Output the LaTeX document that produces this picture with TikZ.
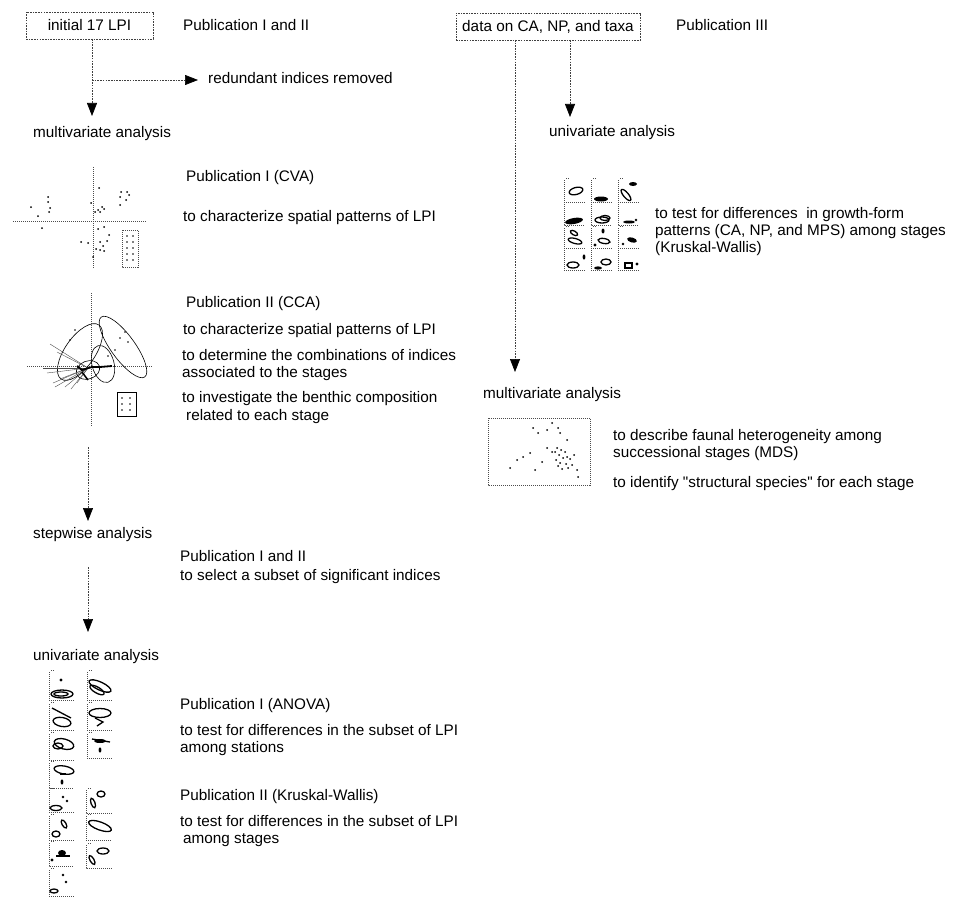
\documentclass[tikz,border=0pt]{standalone}
\usepackage{fontspec}
\setmainfont{Liberation Sans}
\newfontfamily\qfont{Liberation Sans}[Ligatures=TeXOff]
\usetikzlibrary{arrows.meta}
\tikzset{
  dl/.style={line width=0.7pt, dash pattern=on 1.6pt off 1.1pt, draw=black!75},
  ar/.style={-{Triangle[width=10pt,length=13pt,black]}},
  lbl/.style={anchor=west, inner sep=0pt, text height=11pt, text depth=3pt, font=\fontsize{15.3}{17.5}\selectfont},
  dbox/.style={dl, draw, inner sep=0pt, minimum height=27pt, font=\fontsize{15.3}{17.5}\selectfont},
  ax/.style={line width=0.5pt, dash pattern=on 1pt off 1pt, draw=black!70},
  el/.style={line width=1.3pt},
  pt/.style={fill=black}
}
\newcommand\tpan[4]{\draw[ax] (#1,#2) -- (#1,#4) -- (#3,#4); \draw[ax] (#1+2,#2-2) -- (#1+6,#2-2);}
\begin{document}
\begin{tikzpicture}[x=1pt,y=-1pt]
\useasboundingbox (0,0) rectangle (957,896);
% ---------- left column ----------
\node[dbox, minimum width=127pt] (init) at (89.5,25.5) {initial 17 LPI};
\node[lbl] (pubA) at (183,27) {Publication I and II};
\node[lbl] (red) at (208,80) {redundant indices removed};
\node[lbl] (mvaL) at (33,134) {multivariate analysis};
\coordinate (a0) at (92,39);
\coordinate (a1) at (92,116);
\coordinate (j1) at (92,80);
\draw[dl,ar] (a0) -- (a1);
\draw[dl,ar] (j1) -- ([xshift=-10pt]red.west);

% CVA plot
\node[lbl] (pubCVA) at (186,178) {Publication I (CVA)};
\node[lbl] (cva1) at (183,217) {to characterize spatial patterns of LPI};
\draw[ax] (13,221) -- (147,221);
\draw[ax] (93,167) -- (93,268);
\draw[ax] (122,230) rectangle (138,267);
\foreach \p in {(31,207),(38,216),(42,228),(48,197),(48,202),(50,208),(49,212),
 (99,188),(91,203),(102,207),(98,210),(95,212),(104,209),(100,212),
 (121,192),(127,192),(129,195),(126,200),(120,197),(120,205),
 (98,229),(104,227),(109,235),(100,242),(107,241),(103,246),(96,249),(100,250),(104,251),
 (81,242),(88,243),(93,257)}
  \fill \p circle (1);
\foreach \yy in {236,242,248,254,260}{\fill (127,\yy) circle (0.8); \fill (133,\yy) circle (0.8);}

% CCA plot
\node[lbl] (pubCCA) at (186,303) {Publication II (CCA)};
\node[lbl] (cca1) at (183,330) {to characterize spatial patterns of LPI};
\node[lbl] (cca2) at (182,356) {to determine the combinations of indices};
\node[lbl] (cca3) at (182,373) {associated to the stages};
\node[lbl] (cca4) at (182,398) {to investigate the benthic composition};
\node[lbl] (cca5) at (186,416) {related to each stage};
\draw[ax] (27,366) -- (153,366);
\draw[ax] (91,293) -- (91,427);
\draw[line width=0.6pt] (80,352) ellipse[x radius=33, y radius=15, rotate=55];
\draw[line width=0.6pt] (123,347) ellipse[x radius=37, y radius=12, rotate=-54];
\draw[line width=0.6pt] (103,364) ellipse[x radius=19, y radius=11, rotate=-75];
\draw[line width=0.6pt] (88,370) ellipse[x radius=12, y radius=9, rotate=20];
\foreach \e in {(50,344),(57,352),(43,368),(47,373),(53,383),(55,387),(65,387),(71,389),(77,383),(60,379)}
  \draw[line width=0.4pt, black!70] (88,368) -- \e;
\draw[line width=1.8pt] (77,366) -- (82,370) -- (92,367) -- (100,367) -- (112,366);
\draw[line width=1.5pt] (82,372) -- (88,380);
\foreach \p in {(120,338),(125,332),(128,342),(115,350),(70,340),(75,330),(108,356)} \fill \p circle (0.9);
\draw[line width=0.7pt] (117,392) rectangle (136,416);
\foreach \yy in {398,404,410}{\fill (122,\yy) circle (0.8); \fill (130,\yy) circle (0.8);}

% stepwise
\node[lbl] (step) at (33,534) {stepwise analysis};
\coordinate (b0) at (88,447);
\coordinate (b1) at (88,521);
\draw[dl,ar] (b0) -- (b1);
\node[lbl] (pubB) at (180,557) {Publication I and II};
\node[lbl] (sel) at (180,576) {to select a subset of significant indices};
\coordinate (c0) at (88,567);
\coordinate (c1) at (88,632);
\draw[dl,ar] (c0) -- (c1);

% univariate left
\node[lbl] (uvaL) at (33,656) {univariate analysis};
\node[lbl] (pubAN) at (180,705) {Publication I (ANOVA)};
\node[lbl] (an1) at (180,731) {to test for differences in the subset of LPI};
\node[lbl] (an2) at (180,748) {among stations};
\node[lbl] (pubKW) at (180,796) {Publication II (Kruskal-Wallis)};
\node[lbl] (kw1) at (180,822) {to test for differences in the subset of LPI};
\node[lbl] (kw2) at (183,839) {among stages};

% ANOVA thumbnails
\tpan{49}{672}{74}{700} \tpan{49}{704}{74}{730} \tpan{49}{734}{74}{760} \tpan{49}{763}{74}{788}
\tpan{87}{672}{112}{700} \tpan{87}{704}{112}{730} \tpan{87}{734}{112}{758}
\fill (61,680) circle (1.6);
\draw[el] (62,694) ellipse[x radius=11, y radius=4];
\draw[el] (61,694) ellipse[x radius=7, y radius=2];
\draw[el] (62,722) ellipse[x radius=9, y radius=4.5, rotate=-10];
\draw[el] (52,708) -- (71,718);
\draw[el] (64,744) ellipse[x radius=10, y radius=5, rotate=-15];
\draw[el] (58,746) ellipse[x radius=5, y radius=3];
\draw[el] (64,770) ellipse[x radius=10, y radius=4, rotate=-10];
\draw[el] (60,774) -- (66,774);
\fill (62,782) ellipse[x radius=1.4, y radius=2.6];
\draw[el] (100,686) ellipse[x radius=12, y radius=4, rotate=-25];
\draw[el] (97,690) ellipse[x radius=8, y radius=3, rotate=-30];
\draw[el] (100,713) ellipse[x radius=11, y radius=4.5];
\draw[el] (95,718) -- (103,722) -- (97,726);
\draw[el] (92,739) -- (110,742);
\fill (100,741) ellipse[x radius=6, y radius=2];
\fill (100,750) ellipse[x radius=1.4, y radius=2.6];

% KW thumbnails
\tpan{49}{790}{74}{812} \tpan{49}{816}{74}{840} \tpan{49}{843}{74}{866} \tpan{49}{870}{74}{896}
\tpan{86}{790}{112}{813} \tpan{86}{816}{112}{840} \tpan{86}{845}{112}{868}
\fill (63,797) circle (1.4); \fill (67,801) circle (1.4);
\draw[el] (56,808) ellipse[x radius=6, y radius=2.5];
\draw[el] (64,824) ellipse[x radius=4.5, y radius=2, rotate=-60];
\draw[el] (56,834) ellipse[x radius=4, y radius=3];
\draw[el] (56,856) -- (70,856);
\fill (62,853) ellipse[x radius=4, y radius=3];
\fill (52,860) circle (1.6);
\fill (63,875) circle (1.3); \fill (66,882) circle (1.3);
\draw[el] (54,891) ellipse[x radius=4, y radius=2];
\draw[el] (93,803) ellipse[x radius=5, y radius=2, rotate=-70];
\draw[el] (101,794) ellipse[x radius=4, y radius=3];
\draw[el] (100,826) ellipse[x radius=12, y radius=4, rotate=-20];
\draw[el] (92,860) ellipse[x radius=5, y radius=2, rotate=-60];
\draw[el] (103,851) ellipse[x radius=6, y radius=3];

% ---------- right column ----------
\node[dbox, minimum width=184pt] (data) at (548,26.5) {data on CA, NP, and taxa};
\node[lbl] (pubC) at (676,27) {Publication III};
\coordinate (d0) at (515,40);
\coordinate (d1) at (515,372);
\coordinate (e0) at (570,40);
\coordinate (e1) at (570,117);
\draw[dl,ar] (d0) -- (d1);
\draw[dl,ar] (e0) -- (e1);
\node[lbl] (uvaR) at (549,133) {univariate analysis};
\node[lbl] (gf1) at (655,214) {to test for differences\ \ in growth-form};
\node[lbl] (gf2) at (655,231) {patterns (CA, NP, and MPS) among stages};
\node[lbl] (gf3) at (655,248) {(Kruskal-Wallis)};

% growth-form thumbnails
\foreach \xa/\xb in {564/585,591/612,618/639}{
  \foreach \ya/\yb in {180/202,204/225,228/248,250/270}{\tpan{\xa}{\ya}{\xb}{\yb}}}
\draw[el] (576,191) ellipse[x radius=7, y radius=3.5, rotate=15];
\fill (601,199) ellipse[x radius=7, y radius=2.5];
\draw[el] (626,195) ellipse[x radius=7, y radius=2.5, rotate=-50];
\fill (633,184) ellipse[x radius=4, y radius=2];
\fill (574,221) ellipse[x radius=9, y radius=3, rotate=10];
\draw[el] (602,220) ellipse[x radius=7, y radius=3];
\draw[el] (605,218) ellipse[x radius=5, y radius=2.5];
\fill (629,222) ellipse[x radius=6, y radius=1.5];
\fill (636,220) circle (1.3);
\draw[el] (574,233) ellipse[x radius=4, y radius=2, rotate=-30];
\draw[el] (575,241) ellipse[x radius=7, y radius=2.5, rotate=-15];
\fill (603,231) ellipse[x radius=1.5, y radius=2.5];
\draw[el] (604,241) ellipse[x radius=6, y radius=2.5, rotate=-10];
\fill (595,245) circle (1.6);
\fill (632,240) ellipse[x radius=5, y radius=2.5, rotate=-15];
\fill (623,244) circle (1.4);
\draw[el] (573,265) ellipse[x radius=6, y radius=3];
\fill (584,257) ellipse[x radius=1.4, y radius=2.6];
\draw[el] (606,262) ellipse[x radius=5, y radius=3];
\fill (598,268) ellipse[x radius=4, y radius=1.6];
\draw[el] (625,263) rectangle (632,268);
\fill (637,264) circle (1.6);

% MDS
\node[lbl] (mvaR) at (483,394) {multivariate analysis};
\draw[ax] (488,418) rectangle (590,485);
\foreach \p in {(533,428),(538,433),(547,430),(552,423),(558,428),(560,433),(517,460),(523,457),(530,453),
 (535,470),(542,462),(547,448),(552,452),(567,440),(510,468),(577,470),(578,477),
 (557,448),(561,450),(565,452),(559,455),(563,458),(567,457),(556,460),(560,463),(566,464),(570,459),(558,466),(562,469),(568,468),(572,465),(555,452),(574,455)}
  \fill \p circle (1);
\node[lbl] (mds1) at (613,436) {to describe faunal heterogeneity among};
\node[lbl] (mds2) at (613,453) {successional stages (MDS)};
\node[lbl] (mds3) at (613,483) {to identify {\qfont"}structural species{\qfont"} for each stage};
\end{tikzpicture}
\end{document}
